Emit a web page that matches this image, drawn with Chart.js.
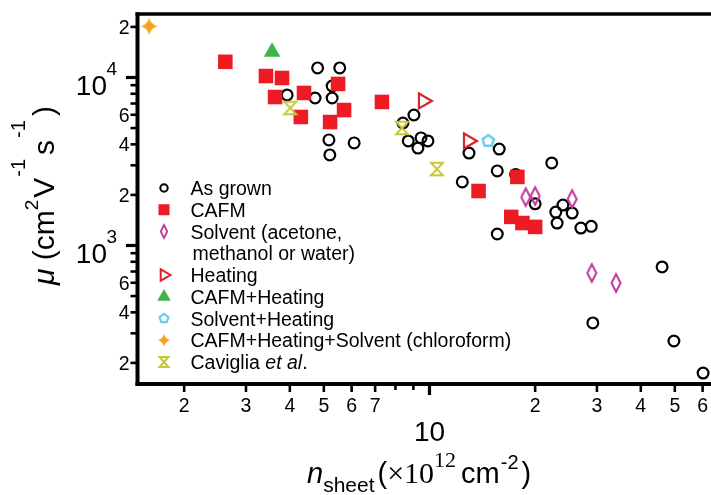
<!DOCTYPE html>
<html>
<head>
<meta charset="utf-8">
<script src="https://cdn.jsdelivr.net/npm/chart.js@4/dist/chart.umd.min.js"></script>
<style>
html,body{margin:0;padding:0;background:#fff;}
canvas{display:block;}
</style>
</head>
<body>
<canvas id="c" width="711" height="495"></canvas>
<script>
// ---------------- data (n_sheet in 1e12 cm^-2, mobility in cm^2/Vs) ----------------
const asGrownX = [4.8, 5.55, 3.93, 4.72, 5.28, 5.28, 5.17, 5.2, 6.1, 9.03, 8.4, 8.7, 9.46, 9.9, 9.27, 12.96, 15.8, 15.6, 12.4, 17.6, 22.3, 20, 22.9, 24, 25.5, 23.1, 27, 28.9, 15.6, 46, 29.2, 49.7, 60.2];
const asGrownY = [11400, 11400, 7870, 7550, 7550, 8900, 4250, 3460, 4080, 5980, 5360, 4190, 4370, 4190, 3800, 3550, 3750, 2780, 2390, 2650, 3100, 1770, 1580, 1740, 1560, 1360, 1270, 1300, 1170, 745, 346, 270, 174];
const cafmX = [2.62, 3.42, 3.8, 3.63, 4.39, 4.3, 5.49, 5.21, 5.71, 7.32, 13.8, 17.8, 17.1, 18.4, 20];
const cafmY = [12400, 10200, 9930, 7650, 8090, 5820, 9150, 5430, 6400, 7150, 2110, 2560, 1480, 1360, 1290];
const solventX = [18.8, 20, 25.5, 29, 34];
const solventY = [1940, 1970, 1890, 686, 598];
const heatingX = [9.6, 12.9];
const heatingY = [7250, 4190];
const cafmHeatingX = [3.56];
const cafmHeatingY = [14200];
const solventHeatingX = [14.7];
const solventHeatingY = [4190];
const cafmHeatingSolventX = [1.59];
const cafmHeatingSolventY = [20200];
const cavigliaX = [4.01, 8.35, 10.5];
const cavigliaY = [6580, 5000, 2850];

const seriesNames = ['As grown', 'CAFM', 'Solvent (acetone,\nmethanol or water)', 'Heating', 'CAFM+Heating', 'Solvent+Heating', 'CAFM+Heating+Solvent (chloroform)', 'Caviglia et al.'];

// tick values / labels
const xTickValues = [2, 3, 4, 5, 6, 7, 8, 9, 10, 20, 30, 40, 50, 60];
const xTickLabels = ['2', '3', '4', '5', '6', '7', '', '', '10', '2', '3', '4', '5', '6'];
const yTickValues = [200, 300, 400, 500, 600, 700, 800, 900, 1000, 2000, 3000, 4000, 5000, 6000, 7000, 8000, 9000, 10000, 20000];
const yTickLabels = ['2', '', '4', '', '6', '', '', '', '10|3', '2', '', '4', '', '6', '', '', '', '10|4', '2'];
const xRange = [1.4773, 63.4];
const yRange = [149.8, 23870];

// ---------------- styling ----------------
const SANS = "'Liberation Sans', Arial, sans-serif";
const SERIF = "'Liberation Serif', 'Times New Roman', serif";
const C = {
  black: '#000000', red: '#ed1c24', magenta: '#c1379b', heat: '#d9252c',
  green: '#3cb44a', cyan: '#6acde8', orange: '#f8a21c', olive: '#c8c83a'
};

function diamondPath(g, x, y, w, h) {
  g.beginPath(); g.moveTo(x, y - h / 2); g.lineTo(x + w / 2, y); g.lineTo(x, y + h / 2); g.lineTo(x - w / 2, y); g.closePath();
}
function pentagonPath(g, x, y, r) {
  g.beginPath();
  for (let i = 0; i < 5; i++) {
    const a = -Math.PI / 2 + i * 2 * Math.PI / 5;
    const px = x + r * Math.cos(a), py = y + r * Math.sin(a);
    if (i === 0) g.moveTo(px, py); else g.lineTo(px, py);
  }
  g.closePath();
}
function starPath(g, x, y, R) {
  const k = R * 0.2;
  g.beginPath();
  g.moveTo(x, y - R);
  g.quadraticCurveTo(x + k, y - k, x + R, y);
  g.quadraticCurveTo(x + k, y + k, x, y + R);
  g.quadraticCurveTo(x - k, y + k, x - R, y);
  g.quadraticCurveTo(x - k, y - k, x, y - R);
  g.closePath();
}
function hourglassPath(g, x, y, w, h) {
  g.beginPath();
  g.moveTo(x - w / 2, y - h / 2); g.lineTo(x + w / 2, y - h / 2);
  g.lineTo(x - w / 2, y + h / 2); g.lineTo(x + w / 2, y + h / 2);
  g.closePath();
}
function makeCanvas(size, fn) {
  const c = document.createElement('canvas');
  c.width = size; c.height = size;
  const g = c.getContext('2d');
  fn(g, size / 2, size / 2);
  return c;
}
function diamondImg(s) {
  return makeCanvas(Math.ceil(24 * s), (g, x, y) => { g.strokeStyle = C.magenta; g.lineWidth = 2; g.lineJoin = 'miter'; diamondPath(g, x, y, 9 * s, 17.5 * s); g.stroke(); });
}
function pentagonImg(s) {
  return makeCanvas(Math.ceil(20 * s) + 2, (g, x, y) => { g.strokeStyle = C.cyan; g.lineWidth = 2.5; pentagonPath(g, x, y, 6 * s); g.stroke(); });
}
function starImg(s) {
  return makeCanvas(Math.ceil(20 * s) + 2, (g, x, y) => { g.fillStyle = C.orange; starPath(g, x, y, 8.6 * s); g.fill(); });
}
function hourglassImg(s) {
  return makeCanvas(Math.ceil(18 * s) + 2, (g, x, y) => { g.strokeStyle = C.olive; g.lineWidth = 2; g.lineJoin = 'miter'; hourglassPath(g, x, y, 12 * s, 12.5 * s); g.stroke(); });
}

const pts = (xs, ys) => xs.map((v, i) => ({ x: v, y: ys[i] }));

const datasets = [
  { label: seriesNames[0], data: pts(asGrownX, asGrownY), pointStyle: 'circle', pointRadius: 5.4, pointBorderWidth: 2.2, pointBorderColor: C.black, pointBackgroundColor: 'rgba(0,0,0,0)', order: 10 },
  { label: seriesNames[1], data: pts(cafmX, cafmY), pointStyle: 'rect', pointRadius: 10.3, pointBorderWidth: 0, pointBorderColor: C.red, pointBackgroundColor: C.red, order: 9 },
  { label: seriesNames[2], data: pts(solventX, solventY), pointStyle: diamondImg(1), pointRadius: 8, order: 3 },
  { label: seriesNames[3], data: pts(heatingX, heatingY), pointStyle: 'triangle', pointRotation: 90, pointRadius: 8.6, pointBorderWidth: 2.2, pointBorderColor: C.heat, pointBackgroundColor: 'rgba(0,0,0,0)', order: 4 },
  { label: seriesNames[4], data: pts(cafmHeatingX, cafmHeatingY), pointStyle: 'triangle', pointRadius: 9.6, pointBorderWidth: 0, pointBorderColor: C.green, pointBackgroundColor: C.green, order: 5 },
  { label: seriesNames[5], data: pts(solventHeatingX, solventHeatingY), pointStyle: pentagonImg(1), pointRadius: 7, order: 6 },
  { label: seriesNames[6], data: pts(cafmHeatingSolventX, cafmHeatingSolventY), pointStyle: starImg(1), pointRadius: 8, order: 7 },
  { label: seriesNames[7], data: pts(cavigliaX, cavigliaY), pointStyle: hourglassImg(1), pointRadius: 7, order: 2 }
];
datasets.forEach(d => { d.showLine = false; d.clip = false; d.pointHoverRadius = d.pointRadius; });

// ---------------- text helpers ----------------
function drawRuns(ctx, runs, x0, y0) {
  let x = x0;
  for (const r of runs) {
    ctx.font = r.font;
    x += (r.pre || 0);
    ctx.fillText(r.t, x, y0 + (r.dy || 0));
    x += ctx.measureText(r.t).width + (r.gap || 0);
  }
}
function line(ctx, x1, y1, x2, y2) { ctx.beginPath(); ctx.moveTo(x1, y1); ctx.lineTo(x2, y2); ctx.stroke(); }

function legendMarker(ctx, i, x, y) {
  ctx.save();
  switch (i) {
    case 0: ctx.strokeStyle = C.black; ctx.lineWidth = 2; ctx.beginPath(); ctx.arc(x, y, 3.7, 0, Math.PI * 2); ctx.stroke(); break;
    case 1: ctx.fillStyle = C.red; ctx.fillRect(x - 5.5, y - 5.5, 11, 11); break;
    case 2: ctx.strokeStyle = C.magenta; ctx.lineWidth = 1.8; diamondPath(ctx, x, y, 6.5, 13); ctx.stroke(); break;
    case 3: {
      ctx.strokeStyle = C.heat; ctx.lineWidth = 2; const R = 6.6; ctx.beginPath();
      ctx.moveTo(x + R, y); ctx.lineTo(x - R / 2, y - R * 0.866); ctx.lineTo(x - R / 2, y + R * 0.866); ctx.closePath(); ctx.stroke(); break;
    }
    case 4: {
      ctx.fillStyle = C.green; const R = 7.8; ctx.beginPath();
      ctx.moveTo(x, y - R); ctx.lineTo(x + R * 0.866, y + R / 2); ctx.lineTo(x - R * 0.866, y + R / 2); ctx.closePath(); ctx.fill(); break;
    }
    case 5: ctx.strokeStyle = C.cyan; ctx.lineWidth = 2.2; pentagonPath(ctx, x, y, 4.6); ctx.stroke(); break;
    case 6: ctx.fillStyle = C.orange; starPath(ctx, x, y, 6.2); ctx.fill(); break;
    case 7: ctx.strokeStyle = C.olive; ctx.lineWidth = 2; hourglassPath(ctx, x, y, 9, 10); ctx.stroke(); break;
  }
  ctx.restore();
}

const decorPlugin = {
  id: 'decor',
  beforeDraw(chart) {
    const ctx = chart.ctx;
    ctx.save(); ctx.fillStyle = '#fff'; ctx.fillRect(0, 0, chart.width, chart.height); ctx.restore();
  },
  afterDraw(chart) {
    const { ctx, chartArea: ca } = chart;
    const xs = chart.scales.x, ys = chart.scales.y;
    ctx.save();
    ctx.strokeStyle = '#000'; ctx.fillStyle = '#000'; ctx.lineCap = 'butt';

    // x ticks and labels
    xTickValues.forEach((v, i) => {
      const px = xs.getPixelForValue(v);
      const lab = xTickLabels[i];
      const len = v === 10 ? 11 : (lab ? 8 : 6);
      ctx.lineWidth = v === 10 ? 3.2 : 2.6;
      line(ctx, px, ca.bottom, px, ca.bottom + len);
      ctx.textAlign = 'center';
      if (v === 10) {
        ctx.font = '28px ' + SANS; ctx.fillText(lab, px, 441);
      } else if (lab) {
        ctx.font = '19.5px ' + SANS; ctx.fillText(lab, px, 412);
      }
    });

    // y ticks and labels
    yTickValues.forEach((v, i) => {
      const py = ys.getPixelForValue(v);
      const lab = yTickLabels[i];
      const isDec = lab.indexOf('|') >= 0;
      ctx.lineWidth = isDec ? 3.2 : 2.6;
      line(ctx, ca.left - 2, py, ca.left - (isDec ? 12 : 7.5), py);
      if (isDec) {
        const [base, exp] = lab.split('|');
        ctx.textAlign = 'right'; ctx.font = '28px ' + SANS; ctx.fillText(base, 107, py + 18);
        ctx.textAlign = 'left'; ctx.font = '19px ' + SANS; ctx.fillText(exp, 106.5, py - 2.5);
      } else if (lab) {
        ctx.textAlign = 'right'; ctx.font = '19.5px ' + SANS; ctx.fillText(lab, 129.5, py + 7);
      }
    });

    // axis frame (left, bottom, top)
    ctx.lineWidth = 4;
    line(ctx, ca.left - 0.5, ca.top - 1.5, ca.left - 0.5, ca.bottom + 2);
    line(ctx, ca.left - 2.5, ca.bottom, ca.right, ca.bottom);
    ctx.lineWidth = 3.5;
    line(ctx, ca.left - 2.5, ca.top, ca.right, ca.top);

    // x title
    ctx.textAlign = 'left';
    drawRuns(ctx, [
      { t: 'n', font: 'italic 29px ' + SANS },
      { t: 'sheet', font: '21px ' + SANS, dy: 9, gap: 3 },
      { t: '(', font: '29px ' + SANS },
      { t: '\u00d710', font: '30px ' + SERIF },
      { t: '12', font: '22px ' + SERIF, dy: -16, gap: 5 },
      { t: 'cm', font: '29px ' + SANS, gap: 1 },
      { t: '-2', font: '20px ' + SANS, dy: -14, gap: 3 },
      { t: ')', font: '29px ' + SANS }
    ], 307, 483);

    // y title (rotated)
    ctx.save();
    ctx.translate(54, 285);
    ctx.rotate(-Math.PI / 2);
    drawRuns(ctx, [
      { t: '\u03bc', font: 'italic 30px ' + SANS },
      { t: ' (cm', font: '30px ' + SANS },
      { t: '2', font: '19px ' + SANS, dy: -16, gap: 2 },
      { t: 'V', font: '30px ' + SANS, gap: 1 },
      { t: '-1', font: '20px ' + SANS, dy: -29, gap: 4 },
      { t: 's', font: '30px ' + SANS, gap: 2 },
      { t: '-1', font: '20px ' + SANS, dy: -29, gap: 4 },
      { t: ')', font: '30px ' + SANS }
    ], 0, 0);
    ctx.restore();

    // legend
    const rowY = [188, 209.75, 231.5, 275, 296.75, 318.5, 340.25, 362];
    const lines2 = 253.25;
    ctx.textAlign = 'left';
    seriesNames.forEach((name, i) => {
      const y = rowY[i];
      legendMarker(ctx, i, 164, y);
      ctx.fillStyle = '#000';
      if (i === 7) {
        const parts = name.split(' et al.');
        drawRuns(ctx, [
          { t: parts[0] + ' ', font: '19.5px ' + SANS },
          { t: 'et al', font: 'italic 19.5px ' + SANS },
          { t: '.', font: '19.5px ' + SANS }
        ], 190.5, y + 7);
      } else {
        const ls = name.split('\n');
        ctx.font = '19.5px ' + SANS;
        ctx.fillText(ls[0], 190.5, y + 7);
        if (ls[1]) ctx.fillText(ls[1], 192.5, lines2 + 7);
      }
    });
    ctx.restore();
  }
};

new Chart(document.getElementById('c'), {
  type: 'scatter',
  data: { datasets },
  options: {
    responsive: false,
    animation: false,
    events: [],
    layout: { autoPadding: false, padding: { left: 138, top: 14, right: 0, bottom: 111 } },
    plugins: { legend: { display: false }, tooltip: { enabled: false } },
    scales: {
      x: { type: 'logarithmic', min: xRange[0], max: xRange[1], display: false, bounds: 'data' },
      y: { type: 'logarithmic', min: yRange[0], max: yRange[1], display: false, bounds: 'data' }
    }
  },
  plugins: [decorPlugin]
});
</script>
</body>
</html>
